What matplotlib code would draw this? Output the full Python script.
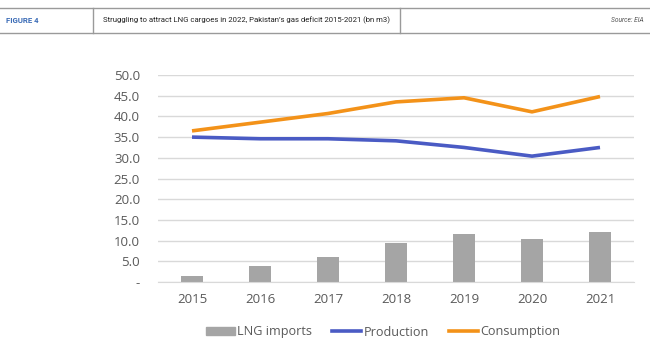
import matplotlib
matplotlib.use('Agg')
from matplotlib import pyplot as plt
from matplotlib.patches import Patch
from matplotlib.lines import Line2D

years = ['2015', '2016', '2017', '2018', '2019', '2020', '2021']
lng_imports = [1.4, 3.9, 6.0, 9.3, 11.7, 10.5, 12.0]
production = [35.0, 34.6, 34.6, 34.1, 32.5, 30.4, 32.5]
consumption = [36.5, 38.6, 40.7, 43.5, 44.5, 41.1, 44.8]
yticks = [0, 5, 10, 15, 20, 25, 30, 35, 40, 45, 50]
ytick_labels = ['-', '5.0', '10.0', '15.0', '20.0', '25.0', '30.0', '35.0', '40.0', '45.0', '50.0']

W, H = 650, 351
fig = plt.figure(figsize=(W / 100, H / 100), dpi=100)

# header band
fig.add_artist(Line2D([0, 1], [1 - 8 / H, 1 - 8 / H], color='#9a9a9a', lw=1))
fig.add_artist(Line2D([0, 1], [1 - 33 / H, 1 - 33 / H], color='#9a9a9a', lw=1))
for xv in [93, 400]:
    fig.add_artist(Line2D([xv / W, xv / W], [1 - 8 / H, 1 - 33 / H], color='#9a9a9a', lw=1))
fig.text(6 / W, 1 - 20.5 / H, 'FIGURE 4', color='#3a6bb6', fontsize=5.6, fontweight='bold',
         family='Roboto', va='center', ha='left')
fig.text(103 / W, 1 - 20.5 / H, 'Struggling to attract LNG cargoes in 2022, Pakistan\u2019s gas deficit 2015-2021 (bn m3)',
         color='#222222', fontsize=5.6, family='Roboto', va='center', ha='left')
fig.text(644 / W, 1 - 20.5 / H, 'Source: EIA', color='#555555', fontsize=4.8, style='italic',
         family='Roboto', va='center', ha='right')

# chart area
ax = fig.add_axes([158 / W, (H - 282) / H, (634 - 158) / W, (282 - 75) / H])
x = list(range(len(years)))
ax.bar(x, lng_imports, width=0.31, color='#a5a5a5', zorder=2)
ax.plot(x, production, color='#4a5bc4', lw=2.6, zorder=3, solid_capstyle='butt')
ax.plot(x, consumption, color='#f39219', lw=2.6, zorder=3, solid_capstyle='butt')

ax.set_xlim(-0.5, len(years) - 0.5)
ax.set_ylim(0, 50)
ax.set_yticks(yticks)
ax.set_yticklabels(ytick_labels)
ax.set_xticks(x)
ax.set_xticklabels(years)
ax.tick_params(axis='both', length=0, labelsize=9.5, labelcolor='#595959')
ax.tick_params(axis='y', pad=13)
ax.tick_params(axis='x', pad=8)
for lab in ax.get_xticklabels() + ax.get_yticklabels():
    lab.set_family('Open Sans')
ax.grid(axis='y', color='#d9d9d9', lw=1, zorder=0)
for s in ['top', 'right', 'left']:
    ax.spines[s].set_visible(False)
ax.spines['bottom'].set_color('#d9d9d9')

handles = [Patch(color='#a5a5a5'),
           Line2D([], [], color='#4a5bc4', lw=2.6),
           Line2D([], [], color='#f39219', lw=2.6)]
fig.legend(handles, ['LNG imports', 'Production', 'Consumption'], loc='center',
           bbox_to_anchor=(383 / W, 19 / H), ncol=3, frameon=False,
           prop={'family': 'Open Sans', 'size': 9.1}, labelcolor='#595959',
           handlelength=2.3, handletextpad=0.15, columnspacing=1.6, handleheight=0.6)

plt.savefig('out.png', dpi=100)
